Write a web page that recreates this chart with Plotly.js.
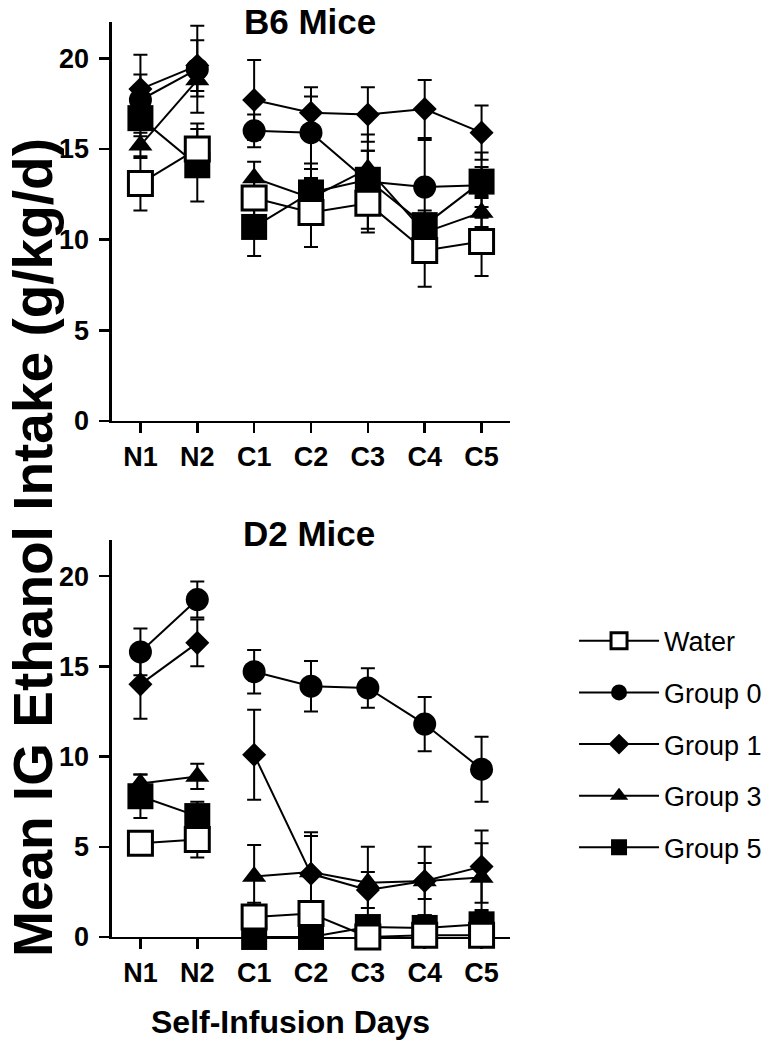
<!DOCTYPE html>
<html><head><meta charset="utf-8">
<script src="https://cdn.plot.ly/plotly-3.0.1.min.js"></script>
<style>html,body{margin:0;padding:0;background:#fff}</style>
</head><body><div id="chart" style="width:781px;height:1049px"></div>
<script>
// ---- data ----
const days = ['N1','N2','C1','C2','C3','C4','C5'];
const yTicks = [0, 5, 10, 15, 20];

// B6 mice (top panel)
const b6Water    = [13.1, 15.0, 12.3, 11.5, 12.0,  9.4,  9.9];
const b6WaterErr = [ 1.5,  1.4,  1.0,  1.9,  1.6,  2.0,  1.9];
const b6G0       = [17.7, 19.4, 16.0, 15.9, 13.2, 12.9, 13.0];
const b6G0Err    = [ 1.4,  2.4,  0.9,  2.0,  2.6,  2.6,  1.8];
const b6G1       = [18.3, 19.6, 17.7, 17.0, 16.9, 17.2, 15.9];
const b6G1Err    = [ 1.9,  1.4,  2.2,  1.4,  1.5,  1.6,  1.5];
const b6G3       = [15.2, 18.8, 13.4, 12.3, 13.9, 10.4, 11.5];
const b6G3Err    = [ 0.7,  0.9,  0.9,  1.0,  1.0,  1.0,  0.8];
const b6G5       = [16.7, 14.1, 10.7, 12.6, 13.3, 10.8, 13.2];
const b6G5Err    = [ 1.0,  2.0,  1.6,  1.6,  1.6,  0.8,  0.8];

// D2 mice (bottom panel)
const d2Water    = [ 5.2,  5.4,  1.1,  1.3,  0.0,  0.1,  0.1];
const d2WaterErr = [ 0.5,  1.0,  0.8,  0.5,  0.2,  0.2,  0.2];
const d2G0       = [15.8, 18.7, 14.7, 13.9, 13.8, 11.8,  9.3];
const d2G0Err    = [ 1.3,  1.0,  1.2,  1.4,  1.1,  1.5,  1.8];
const d2G1       = [14.0, 16.3, 10.1,  3.5,  2.6,  3.1,  3.9];
const d2G1Err    = [ 1.9,  1.3,  2.5,  2.3,  1.0,  1.0,  2.0];
const d2G3       = [ 8.5,  8.9, 3.35,  3.6,  3.0,  3.1,  3.3];
const d2G3Err    = [ 0.5,  0.7, 1.75,  2.0,  2.0,  1.9,  1.9];
const d2G5       = [ 7.8,  6.7,  0.0,  0.0, 0.55,  0.5,  0.7];
const d2G5Err    = [ 1.2,  0.8,  0.0,  0.0,  0.3,  0.7,  0.8];

// ---- styles ----
const styles = {
  'Water':   {symbol:'square',      color:'#ffffff', lw:3, size:24, rank:1},
  'Group 0': {symbol:'circle',      color:'#000000', lw:0, size:23, rank:2},
  'Group 1': {symbol:'diamond',     color:'#000000', lw:0, size:18.5, rank:3},
  'Group 3': {symbol:'triangle-up', color:'#000000', lw:0, size:21, rank:4},
  'Group 5': {symbol:'square',      color:'#000000', lw:0, size:26, rank:5}
};

// break line between naive (N) and choice (C) days
function withGap(arr){ return [arr[0], arr[1], null].concat(arr.slice(2)); }

function mkTrace(name, vals, errs, xa, ya, showLegend){
  const s = styles[name];
  return {
    type:'scatter', mode:'lines+markers', name:name,
    x: withGap(days), y: withGap(vals),
    xaxis: xa, yaxis: ya,
    connectgaps:false, cliponaxis:false,
    legendgroup: name, legendrank: s.rank, showlegend: showLegend,
    line:{color:'#000', width:2},
    marker:{symbol:s.symbol, size:s.size, color:s.color, line:{color:'#000', width:s.lw}},
    error_y:{type:'data', array: withGap(errs), symmetric:true, color:'#000', thickness:2, width:7},
    hoverinfo:'skip'
  };
}

// drawing order (bottom to top): Group 1, Group 0, Group 3, Group 5, Water
const order = ['Group 1','Group 0','Group 3','Group 5','Water'];
const b6 = {'Water':[b6Water,b6WaterErr],'Group 0':[b6G0,b6G0Err],'Group 1':[b6G1,b6G1Err],'Group 3':[b6G3,b6G3Err],'Group 5':[b6G5,b6G5Err]};
const d2 = {'Water':[d2Water,d2WaterErr],'Group 0':[d2G0,d2G0Err],'Group 1':[d2G1,d2G1Err],'Group 3':[d2G3,d2G3Err],'Group 5':[d2G5,d2G5Err]};

const traces = [];
order.forEach(n => traces.push(mkTrace(n, b6[n][0], b6[n][1], 'x', 'y', false)));
order.forEach(n => traces.push(mkTrace(n, d2[n][0], d2[n][1], 'x2', 'y2', true)));

const FONT = 'Liberation Sans, Arial, Helvetica, sans-serif';
const xTickFont = {family:FONT, size:27, color:'#000', weight:'bold'};
const yTickFont = {family:FONT, size:27, color:'#000', weight:'bold'};

function xAx(anchor){
  return {domain:[0.1434, 0.653], anchor:anchor, type:'category', categoryarray:days,
    range:[-0.5, 6.5], showline:true, linecolor:'#000', linewidth:2.5,
    ticks:'outside', ticklen:10, tickwidth:2.5, tickcolor:'#000',
    tickfont:xTickFont, showgrid:false, zeroline:false, layer:'below traces', fixedrange:true};
}
function yAx(anchor, dom){
  return {domain:dom, anchor:anchor, range:[0, 22], tickvals:yTicks,
    showline:true, linecolor:'#000', linewidth:2.5,
    ticks:'outside', ticklen:10, tickwidth:2.5, tickcolor:'#000', ticklabelstandoff:5,
    tickfont:yTickFont, showgrid:false, zeroline:false, layer:'below traces', fixedrange:true};
}

const layout = {
  width:781, height:1049,
  margin:{l:0, r:0, t:0, b:0},
  paper_bgcolor:'#fff', plot_bgcolor:'rgba(0,0,0,0)',
  showlegend:true,
  xaxis: xAx('y'), yaxis: yAx('x', [0.5987, 0.979]),
  xaxis2: xAx('y2'), yaxis2: yAx('x2', [0.1068, 0.4852]),
  legend:{x:0.735, y:0.412, xanchor:'left', yanchor:'top', traceorder:'grouped',
    tracegroupgap:13.5, itemwidth:80, font:{family:FONT, size:27, color:'#000'},
    bgcolor:'rgba(0,0,0,0)', borderwidth:0},
  annotations:[
    {text:'B6 Mice', xref:'paper', yref:'paper', x:310/781, y:1, yanchor:'top', showarrow:false,
     font:{family:FONT, size:35, color:'#000', weight:'bold'}},
    {text:'D2 Mice', xref:'paper', yref:'paper', x:309/781, y:1-533/1049, showarrow:false,
     font:{family:FONT, size:35, color:'#000', weight:'bold'}},
    {text:'Self-Infusion Days', xref:'paper', yref:'paper', x:290/781, y:7/1049, yanchor:'bottom', showarrow:false,
     font:{family:FONT, size:32, color:'#000', weight:'bold'}},
    {text:'Mean IG Ethanol Intake (g/kg/d)', xref:'paper', yref:'paper', x:0, xanchor:'left', y:1-548/1049,
     showarrow:false, textangle:-90,
     font:{family:FONT, size:55, color:'#000', weight:'bold'}}
  ]
};

Plotly.newPlot('chart', traces, layout, {staticPlot:true, displayModeBar:false});
</script></body></html>
